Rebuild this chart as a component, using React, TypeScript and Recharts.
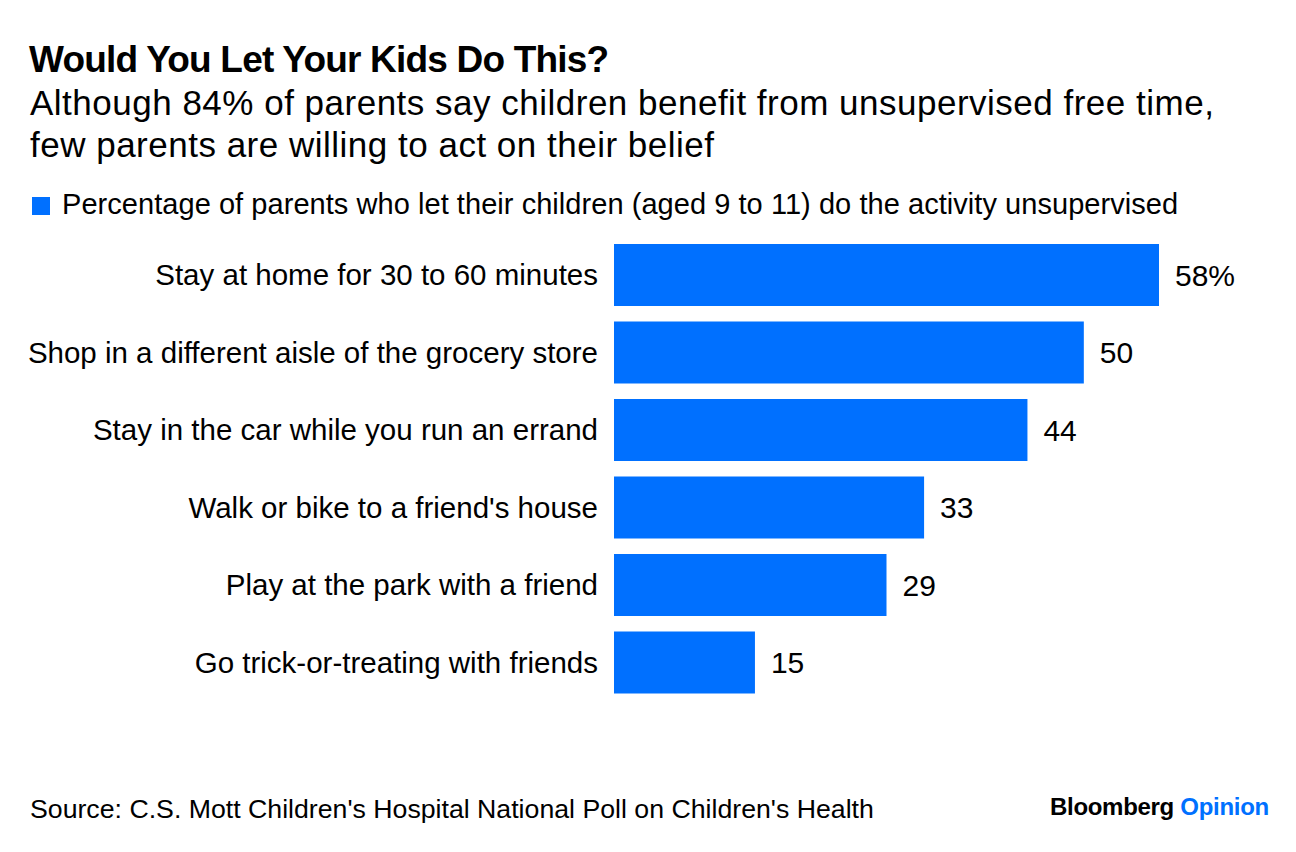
import { BarChart, Bar, XAxis, YAxis, LabelList } from "recharts";

const activities = [
  "Stay at home for 30 to 60 minutes",
  "Shop in a different aisle of the grocery store",
  "Stay in the car while you run an errand",
  "Walk or bike to a friend's house",
  "Play at the park with a friend",
  "Go trick-or-treating with friends",
];

const shares = [58, 50, 44, 33, 29, 15];

const data = activities.map((name, i) => ({ name, value: shares[i] }));

const FONT = '"Liberation Sans", Arial, sans-serif';
const BLUE = "#0070FF";

export default function App() {
  return (
    <div
      style={{
        position: "absolute",
        left: 0,
        top: 0,
        width: 1296,
        height: 852,
        background: "#fff",
        fontFamily: FONT,
        color: "#000",
      }}
    >
      <div style={{ position: "absolute", left: 29, top: 39, fontSize: 37, fontWeight: 700, letterSpacing: -0.8, whiteSpace: "nowrap" }}>
        Would You Let Your Kids Do This?
      </div>
      <div style={{ position: "absolute", left: 30, top: 82, fontSize: 35, lineHeight: "42px", letterSpacing: 0.5, whiteSpace: "nowrap" }}>
        Although 84% of parents say children benefit from unsupervised free time,
        <br />
        few parents are willing to act on their belief
      </div>
      <span style={{ position: "absolute", left: 32, top: 197, width: 18, height: 18, background: BLUE }} />
      <div style={{ position: "absolute", left: 62, top: 188, fontSize: 29, letterSpacing: 0.05, whiteSpace: "nowrap" }}>
        Percentage of parents who let their children (aged 9 to 11) do the activity unsupervised
      </div>

      <div style={{ position: "absolute", left: 0, top: 236 }}>
        <BarChart
          width={1296}
          height={465}
          layout="vertical"
          data={data}
          margin={{ top: 0, right: 137, bottom: 0, left: 0 }}
          barCategoryGap={8}
        >
          <XAxis type="number" hide domain={[0, "dataMax"]} />
          <YAxis
            type="category"
            dataKey="name"
            width={614}
            axisLine={false}
            tickLine={false}
            tickMargin={10}
            tick={{ fontSize: 29.5, fill: "#000", fontFamily: FONT }}
          />
          <Bar dataKey="value" fill={BLUE} isAnimationActive={false}>
            <LabelList
              dataKey="value"
              position="right"
              offset={16}
              style={{ fontSize: 30, fill: "#000", fontFamily: FONT }}
              formatter={(v: number) => (v === shares[0] ? `${v}%` : `${v}`)}
            />
          </Bar>
        </BarChart>
      </div>

      <div style={{ position: "absolute", left: 30, top: 794, fontSize: 26.7, whiteSpace: "nowrap" }}>
        Source: C.S. Mott Children's Hospital National Poll on Children's Health
      </div>
      <div style={{ position: "absolute", left: 1050, top: 793, fontSize: 24, fontWeight: 700, letterSpacing: -0.3, whiteSpace: "nowrap" }}>
        Bloomberg <span style={{ color: BLUE }}>Opinion</span>
      </div>
    </div>
  );
}
